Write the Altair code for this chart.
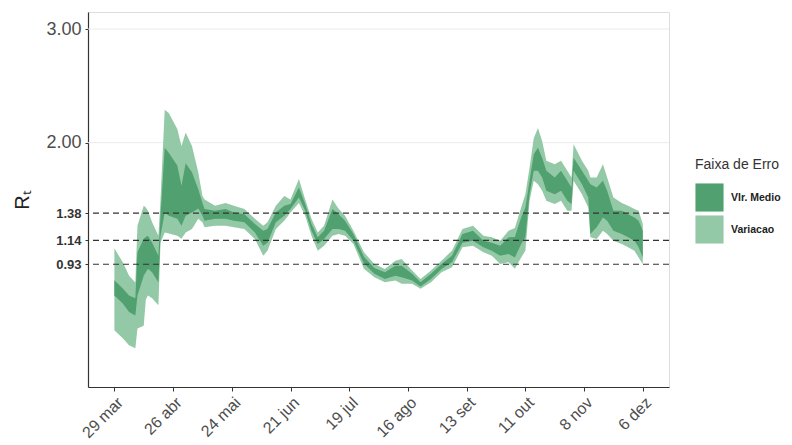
import altair as alt
import pandas as pd

# days since 2020-03-29
dia = [0, 4, 7, 10, 11, 14, 15, 16, 18, 21, 22, 24, 26, 30, 32, 34, 37, 40, 42, 43,
       48, 53, 57, 62, 67, 71, 73, 77, 81, 84, 88, 91, 94, 97, 100, 104, 107, 110, 114,
       119, 124, 129, 134, 137, 142, 146, 151, 156, 161, 166, 171, 176, 180, 184, 188,
       191, 194, 196, 198, 200, 202, 204, 206, 210, 213, 216, 218, 219, 223, 226, 227,
       230, 233, 235, 238, 242, 245, 248, 250, 252]

var_min = [0.35, 0.28, 0.217, 0.19, 0.365, 0.39, 0.62, 0.655, 0.63, 0.57, 1.12, 1.21, 1.20, 1.18, 1.155, 1.21, 1.24, 1.33, 1.30, 1.255,
           1.27, 1.27, 1.255, 1.24, 1.153, 1.006, 1.05, 1.24, 1.313, 1.386, 1.47, 1.357, 1.18, 1.05, 1.094, 1.18, 1.196, 1.18, 1.109,
           0.89, 0.816, 0.772, 0.787, 0.758, 0.758, 0.714, 0.772, 0.86, 0.904, 1.079, 1.094, 1.035, 1.006, 0.933, 0.947,
           0.89, 0.99, 1.05, 1.489, 1.664, 1.635, 1.576, 1.489, 1.46, 1.489, 1.40, 1.40, 1.664, 1.547, 1.43, 1.167,
           1.153, 1.225, 1.196, 1.138, 1.109, 1.079, 1.05, 0.99, 0.933]
med_min = [0.655, 0.585, 0.51, 0.48, 0.655, 0.83, 0.86, 0.89, 0.86, 0.77, 1.18, 1.386, 1.357, 1.33, 1.27, 1.357, 1.386, 1.42, 1.357, 1.313,
           1.33, 1.33, 1.313, 1.30, 1.21, 1.094, 1.12, 1.30, 1.357, 1.416, 1.517, 1.40, 1.225, 1.109, 1.153, 1.24, 1.24, 1.225, 1.138,
           0.936, 0.846, 0.80, 0.83, 0.816, 0.787, 0.734, 0.80, 0.889, 0.947, 1.12, 1.138, 1.079, 1.05, 1.006, 1.02,
           0.99, 1.109, 1.167, 1.547, 1.752, 1.752, 1.693, 1.576, 1.547, 1.576, 1.489, 1.46, 1.752, 1.635, 1.517, 1.196,
           1.255, 1.342, 1.313, 1.225, 1.196, 1.167, 1.138, 1.079, 0.99]
med_max = [0.79, 0.717, 0.655, 0.63, 1.035, 1.155, 1.17, 1.18, 1.12, 1.006, 1.357, 1.956, 1.91, 1.80, 1.62, 1.82, 1.74, 1.59, 1.47, 1.416,
           1.40, 1.416, 1.386, 1.37, 1.284, 1.225, 1.24, 1.386, 1.445, 1.46, 1.605, 1.46, 1.284, 1.167, 1.225, 1.416, 1.37, 1.313, 1.196,
           0.997, 0.898, 0.86, 0.918, 0.918, 0.846, 0.772, 0.846, 0.933, 1.006, 1.196, 1.225, 1.138, 1.12, 1.094, 1.167,
           1.17, 1.342, 1.43, 1.664, 1.898, 1.956, 1.868, 1.752, 1.693, 1.752, 1.664, 1.605, 1.868, 1.752, 1.664, 1.635,
           1.605, 1.664, 1.576, 1.40, 1.40, 1.37, 1.342, 1.313, 1.225]
var_max = [1.07, 0.947, 0.83, 0.77, 1.27, 1.445, 1.43, 1.40, 1.30, 1.18, 1.50, 2.29, 2.26, 2.12, 1.97, 2.09, 1.97, 1.74, 1.53, 1.50,
           1.445, 1.47, 1.445, 1.416, 1.33, 1.27, 1.30, 1.445, 1.53, 1.50, 1.68, 1.50, 1.33, 1.21, 1.27, 1.50, 1.416, 1.357, 1.225,
           1.035, 0.933, 0.889, 0.962, 0.977, 0.875, 0.80, 0.875, 0.962, 1.05, 1.24, 1.27, 1.18, 1.167, 1.138, 1.225,
           1.25, 1.43, 1.547, 1.78, 2.04, 2.13, 2.015, 1.84, 1.81, 1.84, 1.752, 1.693, 1.986, 1.84, 1.752, 1.693,
           1.693, 1.81, 1.693, 1.517, 1.47, 1.445, 1.416, 1.40, 1.284]

faixas = ["Vlr. Medio", "Variacao"]
cores = ["#51a070", "#93c9a6"]
ref_vals = [1.38, 1.14, 0.93]
grid_vals = [2.0, 3.0]
meses = ["jan", "fev", "mar", "abr", "mai", "jun", "jul", "ago", "set", "out", "nov", "dez"]
tick_dates = [(2020, 3, 29), (2020, 4, 26), (2020, 5, 24), (2020, 6, 21), (2020, 7, 19),
              (2020, 8, 16), (2020, 9, 13), (2020, 10, 11), (2020, 11, 8), (2020, 12, 6)]

datas = pd.Timestamp("2020-03-29") + pd.to_timedelta(dia, unit="D")
df_var = pd.DataFrame({"data": datas, "lo": var_min, "hi": var_max, "faixa": "Variacao"})
df_med = pd.DataFrame({"data": datas, "lo": med_min, "hi": med_max, "faixa": "Vlr. Medio"})

font = "Liberation Sans"
xscale = alt.Scale(domain=[alt.DateTime(year=2020, month=3, date=16, hours=10),
                           alt.DateTime(year=2020, month=12, date=18, hours=12)])
yscale = alt.Scale(domain=[-0.15, 3.15], nice=False, zero=False)

month_arr = "[" + ",".join("'%s'" % m for m in meses) + "]"
xaxis = alt.Axis(
    values=[alt.DateTime(year=y, month=m, date=d) for (y, m, d) in tick_dates],
    labelExpr="date(datum.value) + ' ' + " + month_arr + "[month(datum.value)]",
    labelAngle=-45, labelAlign="right", labelBaseline="top", labelFontSize=16,
    labelColor="#4d4d4d", labelFont=font, labelPadding=3,
    domainColor="#333333", domainWidth=1.2, tickColor="#333333", tickSize=4,
    grid=False, title=None,
)
yaxis = alt.Axis(
    values=[0.93, 1.14, 1.38, 2.0, 3.0], format=".2f",
    labelFontSize={"condition": {"test": "datum.value >= 2", "value": 18}, "value": 13},
    labelFontWeight={"condition": {"test": "datum.value >= 2", "value": "normal"}, "value": "bold"},
    labelColor={"condition": {"test": "datum.value >= 2", "value": "#4d4d4d"}, "value": "#333333"},
    labelFont=font, labelPadding=4,
    domainColor="#333333", domainWidth=1.2, tickColor="#333333", tickSize=3,
    grid=False, title="Rₜ", titleFontSize=20, titleFontWeight="normal", titleColor="#222222",
    titleFont=font, titlePadding=13,
)

color = alt.Color("faixa:N", scale=alt.Scale(domain=faixas, range=cores),
                  legend=alt.Legend(title="Faixa de Erro", orient="none", legendX=607, legendY=146,
                                    symbolType="square", symbolSize=790, symbolStrokeWidth=0,
                                    symbolOpacity=1, labelFontWeight="bold", labelFontSize=10.5,
                                    labelFont=font, titleFont=font, titleFontSize=14,
                                    titleFontWeight="normal", titleColor="#333333",
                                    labelColor="#222222", rowPadding=3, titlePadding=11,
                                    labelOffset=7))

grid = alt.Chart(pd.DataFrame({"v": grid_vals})).mark_rule(color="#ebebeb", strokeWidth=1).encode(
    y=alt.Y("v:Q", scale=yscale, axis=yaxis))

area_var = alt.Chart(df_var).mark_area(opacity=1, interpolate="linear").encode(
    x=alt.X("data:T", scale=xscale, axis=xaxis),
    y=alt.Y("lo:Q", scale=yscale, axis=yaxis), y2="hi:Q", color=color)
area_med = alt.Chart(df_med).mark_area(opacity=1, interpolate="linear").encode(
    x=alt.X("data:T", scale=xscale, axis=xaxis),
    y=alt.Y("lo:Q", scale=yscale, axis=yaxis), y2="hi:Q", color=color)

refs = alt.Chart(pd.DataFrame({"v": ref_vals})).mark_rule(
    color="#333333", strokeDash=[6, 4], strokeWidth=1.1).encode(
    y=alt.Y("v:Q", scale=yscale, axis=yaxis))

chart = alt.layer(grid, area_var, area_med, refs).properties(
    width=581, height=375,
    autosize=alt.AutoSizeParams(type="none"),
    padding={"left": 80, "top": 4, "right": 115, "bottom": 58},
).configure_view(stroke=None).configure(background="white")

chart.save("out.html", embed_options={"renderer": "svg", "actions": False})
